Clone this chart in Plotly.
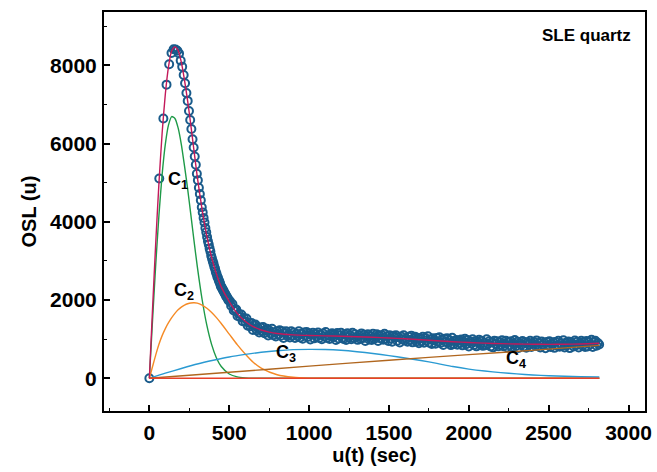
import plotly.graph_objects as go

# ---------------- data ----------------
t_early = [0, 62, 87.7, 107.4, 124, 138.6, 151.9, 164, 175.4, 186, 196.1, 205.6, 214.8,
           223.5, 232, 240.1, 248, 255.6, 263, 270.3, 277.3, 284.1, 290.8, 297.3, 303.7,
           310, 316.1, 322.2, 328.1, 333.9, 339.6, 345.2, 350.7, 356.2, 361.5, 366.8, 372,
           377.1, 382.2, 387.2, 392.1, 397, 401.8, 406.6, 411.3, 415.9, 420.5, 425.1, 429.5,
           434, 438.4, 442.8, 447.1, 451.4, 455.6, 459.8, 464, 468.1, 472.2, 476.2, 480.2,
           484.3, 488.2, 492.1, 496]
osl_early = [0, 5105, 6640, 7505, 8025, 8315, 8410, 8405, 8370, 8300, 8120, 7960, 7750,
             7540, 7290, 7090, 6830, 6600, 6370, 6110, 5900, 5670, 5460, 5230, 5060,
             4870, 4710, 4550, 4370, 4240, 4100, 3980, 3840, 3730, 3610, 3500, 3420,
             3320, 3240, 3130, 3060, 2990, 2930, 2850, 2800, 2720, 2670, 2600, 2570,
             2510, 2470, 2420, 2360, 2330, 2300, 2260, 2240, 2200, 2170, 2150, 2100,
             2090, 2050, 2030, 1990]

t_tail = list(range(504, 2817, 8))
osl_tail = [
    1974, 1852, 1900, 1735, 1762, 1760, 1590, 1650, 1566, 1632,
    1460, 1540, 1450, 1526, 1342, 1420, 1327, 1415, 1237, 1349,
    1373, 1229, 1285, 1173, 1301, 1210, 1312, 1153, 1214, 1265,
    1096, 1218, 1142, 1266, 1100, 1175, 1070, 1205, 1122, 1229,
    1086, 1203, 1030, 1156, 1203, 1080, 1127, 1045, 1203, 1091,
    1169, 1028, 1136, 1075, 1204, 1042, 1141, 1010, 1169, 1088,
    1186, 1055, 1144, 993, 1113, 1162, 1021, 1131, 1060, 1169,
    1028, 1118, 997, 1146, 1066, 1185, 1034, 1093, 1003, 1132,
    1151, 1050, 1119, 978, 1158, 1017, 1096, 1165, 1034, 1003,
    1122, 981, 1150, 1049, 1098, 997, 1166, 1025, 1124, 1053,
    982, 1101, 1009, 1148, 1027, 1116, 955, 1074, 1123, 992,
    1080, 979, 1138, 1006, 1055, 1124, 953, 1092, 1021, 1100,
    988, 1136, 1005, 1073, 951, 1100, 1018, 936, 1085, 1043,
    1101, 960, 1048, 916, 1065, 993, 1101, 970, 1018, 936,
    1064, 972, 1090, 918, 1016, 1064, 942, 1030, 898, 1016,
    944, 1062, 910, 1028, 966, 1074, 912, 990, 878, 1026,
    974, 882, 1030, 928, 1046, 904, 992, 850, 1008, 926,
    1024, 902, 970, 848, 1036, 874, 952, 980, 859, 967,
    895, 994, 842, 931, 1009, 868, 976, 815, 943, 892,
    1000, 849, 947, 816, 925, 983, 862, 961, 829, 908,
    847, 996, 875, 944, 813, 922, 791, 960, 879, 947,
    816, 925, 854, 973, 822, 892, 961, 790, 930, 839,
    948, 797, 897, 976, 826, 935, 775, 904, 854, 954,
    813, 923, 782, 912, 861, 961, 800, 890, 930, 830,
    969, 819, 899, 789, 938, 848, 908, 768, 928, 838,
    948, 798, 878, 918, 778, 928, 838, 958, 808, 889,
    829, 970, 790, 911, 851, 942, 772, 923, 883, 814,
    965, 846, 937, 787, 898, 959, 830, 920, 801, 952,
    813, 934, 866, 987, 798, 920, 961, 832, 904, 865]

# fitted sum curve
t_sum = [0, 20, 40, 60, 80, 100, 120, 140, 160, 180, 200, 220, 240, 260, 280, 300, 330,
         360, 390, 420, 450, 500, 550, 600, 650, 700, 750, 800, 900, 1000, 1100, 1200,
         1300, 1400, 1500, 1600, 1700, 1800, 1900, 2000, 2100, 2200, 2300, 2400, 2500,
         2600, 2700, 2817]
osl_sum = [0, 1781, 3469, 4989, 6269, 7266, 7968, 8370, 8470, 8380, 8080, 7620, 7080,
           6460, 5800, 5150, 4320, 3630, 3085, 2665, 2337, 1960, 1660, 1460, 1320, 1235,
           1180, 1145, 1110, 1095, 1085, 1075, 1062, 1048, 1030, 1010, 985, 960, 935,
           915, 898, 885, 876, 870, 868, 870, 878, 895]

# component C1 (green)
t_c1 = [0, 20, 40, 60, 80, 100, 120, 140, 160, 180, 200, 220, 240, 260, 280, 300, 330,
        360, 390, 420, 450, 500, 550, 600, 650, 700, 2817]
osl_c1 = [0, 1499, 2915, 4172, 5210, 5985, 6477, 6689, 6641, 6400, 5980, 5430, 4830,
          4170, 3500, 2860, 2020, 1350, 860, 520, 300, 110, 35, 10, 0, 0, 0]

# component C2 (orange)
t_c2 = [0, 20, 40, 60, 80, 100, 120, 140, 160, 180, 200, 220, 240, 260, 280, 300, 330,
        360, 390, 420, 450, 500, 550, 600, 650, 700, 800, 900, 1000, 1100, 2817]
osl_c2 = [0, 300, 600, 870, 1090, 1270, 1420, 1550, 1660, 1750, 1820, 1870, 1905, 1925,
          1930, 1920, 1870, 1790, 1680, 1550, 1400, 1130, 860, 620, 410, 260, 90, 25, 5,
          0, 0]

# component C3 (blue)
t_c3 = [0, 100, 200, 300, 400, 500, 600, 700, 800, 900, 1000, 1100, 1200, 1300, 1400,
        1500, 1600, 1700, 1800, 1900, 2000, 2100, 2200, 2300, 2400, 2500, 2600, 2700, 2817]
osl_c3 = [0, 130, 250, 365, 460, 545, 610, 665, 705, 732, 740, 735, 715, 680, 635, 580,
          520, 455, 380, 300, 235, 185, 145, 112, 86, 66, 51, 41, 33]

# component C4 (brown)
t_c4 = [0, 500, 1000, 1500, 2000, 2500, 2817]
osl_c4 = [0, 155, 310, 462, 605, 745, 842]

# background (red)
t_bg = [0, 2817]
osl_bg = [0, 0]

label_text = ["C<sub>1</sub>", "C<sub>2</sub>", "C<sub>3</sub>", "C<sub>4</sub>"]
label_t = [178, 214, 858, 2296]
label_osl = [5050, 2230, 640, 470]

FONT = "Liberation Sans, Arial, Helvetica, sans-serif"

fig = go.Figure()

fig.add_trace(go.Scatter(
    x=t_early + t_tail, y=osl_early + osl_tail, mode="markers",
    marker=dict(symbol="circle-open", size=8, color="#195b8b",
                line=dict(width=2, color="#195b8b")),
    hoverinfo="skip"))

curve_specs = [
    (t_c1, osl_c1, "#1e9a48"),
    (t_c2, osl_c2, "#f58a25"),
    (t_c3, osl_c3, "#2a9ad2"),
    (t_c4, osl_c4, "#b0661e"),
    (t_bg, osl_bg, "#e8402a"),
    (t_sum, osl_sum, "#c3195a"),
]
for xs, ys, col in curve_specs:
    fig.add_trace(go.Scatter(x=xs, y=ys, mode="lines",
                             line=dict(color=col, width=1.4, shape="spline", smoothing=0.6),
                             hoverinfo="skip"))

for txt, xv, yv in zip(label_text, label_t, label_osl):
    fig.add_annotation(x=xv, y=yv, text=txt, showarrow=False,
                       font=dict(family=FONT, size=18, color="black", weight="bold"),
                       xanchor="center", yanchor="middle")

fig.add_annotation(xref="paper", yref="paper", x=0.978, y=0.942, text="SLE quartz",
                   showarrow=False, xanchor="right", yanchor="middle",
                   font=dict(family=FONT, size=17, color="black", weight="bold"))

axis_common = dict(
    showline=True, linecolor="black", linewidth=2, mirror=True,
    ticks="inside", ticklen=6, tickwidth=1.5, tickcolor="black",
    showgrid=False, zeroline=False, automargin=False,
    tickfont=dict(family=FONT, size=21, color="black", weight="bold"),
)

fig.update_xaxes(range=[-284, 3103], tick0=0, dtick=500,
                 minor=dict(dtick=250, ticks="inside", ticklen=3, tickwidth=1.2,
                            tickcolor="black"),
                 title=dict(text="u(t) (sec)", standoff=2,
                            font=dict(family=FONT, size=20, color="black", weight="bold")),
                 ticklabelstandoff=2,
                 **axis_common)
fig.update_yaxes(range=[-836, 9362], tick0=0, dtick=2000,
                 minor=dict(dtick=1000, ticks="inside", ticklen=3, tickwidth=1.2,
                            tickcolor="black"),
                 title=dict(text="OSL (u)", standoff=8,
                            font=dict(family=FONT, size=20, color="black", weight="bold")),
                 ticklabelstandoff=1,
                 **axis_common)

fig.update_layout(
    width=657, height=472,
    margin=dict(l=104, r=12, t=12, b=61),
    plot_bgcolor="white", paper_bgcolor="white",
    showlegend=False,
    font=dict(family=FONT, color="black"),
)

fig.write_html("out.html", config={"displayModeBar": False},
               post_script="document.body.style.margin='0';document.body.style.overflow='hidden';")
